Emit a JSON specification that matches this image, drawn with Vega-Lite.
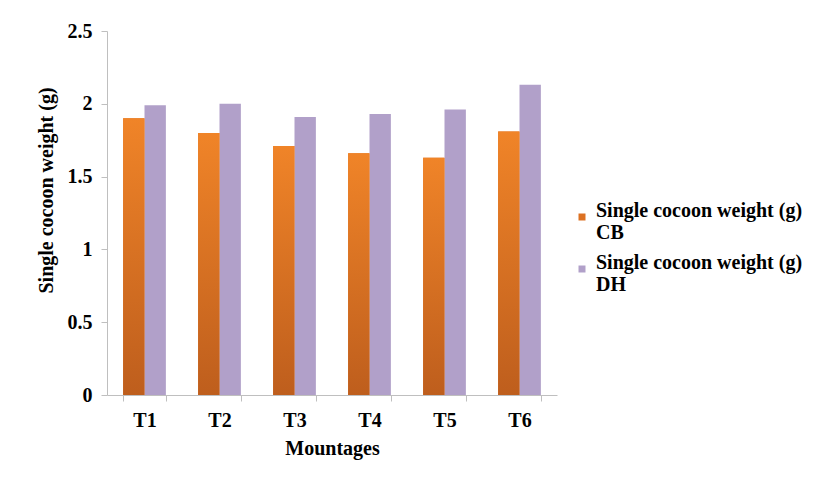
{
  "$schema": "https://vega.github.io/schema/vega-lite/v6.json",
  "width": 450,
  "height": 364,
  "autosize": {"type": "none"},
  "padding": {"left": 107, "top": 31, "right": 265, "bottom": 82},
  "background": "white",
  "data": {
    "values": [
      {"mountage": "T1", "series": "Single cocoon weight (g) CB", "weight": 1.90},
      {"mountage": "T1", "series": "Single cocoon weight (g) DH", "weight": 1.99},
      {"mountage": "T2", "series": "Single cocoon weight (g) CB", "weight": 1.80},
      {"mountage": "T2", "series": "Single cocoon weight (g) DH", "weight": 2.00},
      {"mountage": "T3", "series": "Single cocoon weight (g) CB", "weight": 1.71},
      {"mountage": "T3", "series": "Single cocoon weight (g) DH", "weight": 1.91},
      {"mountage": "T4", "series": "Single cocoon weight (g) CB", "weight": 1.66},
      {"mountage": "T4", "series": "Single cocoon weight (g) DH", "weight": 1.93},
      {"mountage": "T5", "series": "Single cocoon weight (g) CB", "weight": 1.63},
      {"mountage": "T5", "series": "Single cocoon weight (g) DH", "weight": 1.96},
      {"mountage": "T6", "series": "Single cocoon weight (g) CB", "weight": 1.81},
      {"mountage": "T6", "series": "Single cocoon weight (g) DH", "weight": 2.13}
    ]
  },
  "encoding": {
    "x": {
      "field": "mountage",
      "type": "nominal",
      "scale": {"paddingInner": 0.43, "paddingOuter": 0.215},
      "axis": {
        "title": "Mountages",
        "labelAngle": 0,
        "tickBand": "extent",
        "tickSize": 6,
        "labelPadding": 9,
        "titlePadding": 8,
        "domainColor": "#BFBFBF",
        "tickColor": "#BFBFBF"
      }
    },
    "xOffset": {
      "field": "series",
      "type": "nominal",
      "scale": {
        "domain": ["Single cocoon weight (g) CB", "Single cocoon weight (g) DH"],
        "paddingInner": 0,
        "paddingOuter": 0
      }
    },
    "y": {
      "field": "weight",
      "type": "quantitative",
      "scale": {"domain": [0, 2.5], "nice": false},
      "axis": {
        "title": "Single cocoon weight (g)",
        "values": [0, 0.5, 1, 1.5, 2, 2.5],
        "format": "~g",
        "grid": false,
        "tickSize": 6,
        "labelPadding": 9,
        "titlePadding": 11,
        "titleY": 159,
        "domainColor": "#BFBFBF",
        "tickColor": "#BFBFBF"
      }
    }
  },
  "layer": [
    {
      "mark": {"type": "bar"},
      "encoding": {
        "fill": {
          "field": "series",
          "type": "nominal",
          "scale": {
            "domain": ["Single cocoon weight (g) CB", "Single cocoon weight (g) DH"],
            "range": ["#DC7122", "#B1A0C9"]
          },
          "legend": {
            "title": null,
            "orient": "none",
            "legendX": 465,
            "legendY": 176,
            "padding": 0,
            "symbolType": "square",
            "symbolSize": 49,
            "symbolStrokeWidth": 0,
            "labelFont": "Liberation Serif",
            "labelFontWeight": "bold",
            "labelFontSize": 20,
            "labelLineHeight": 19,
            "labelColor": "#000000",
            "labelLimit": 400,
            "labelOffset": 4,
            "labelBaseline": "alphabetic",
            "rowPadding": 10,
            "labelExpr": "[slice(datum.label, 0, 24), slice(datum.label, 25)]"
          }
        }
      }
    },
    {
      "transform": [{"filter": "datum.series == 'Single cocoon weight (g) CB'"}],
      "mark": {"type": "bar"},
      "encoding": {
        "fill": {
          "value": {
            "gradient": "linear",
            "x1": 0, "y1": 0, "x2": 0, "y2": 1,
            "stops": [
              {"offset": 0, "color": "#F08428"},
              {"offset": 1, "color": "#BE5E1D"}
            ]
          }
        }
      }
    }
  ],
  "config": {
    "view": {"stroke": null},
    "axis": {
      "labelFont": "Liberation Serif",
      "labelFontWeight": "bold",
      "labelFontSize": 20,
      "labelColor": "#000000",
      "titleFont": "Liberation Serif",
      "titleFontWeight": "bold",
      "titleFontSize": 20,
      "titleColor": "#000000"
    }
  }
}
